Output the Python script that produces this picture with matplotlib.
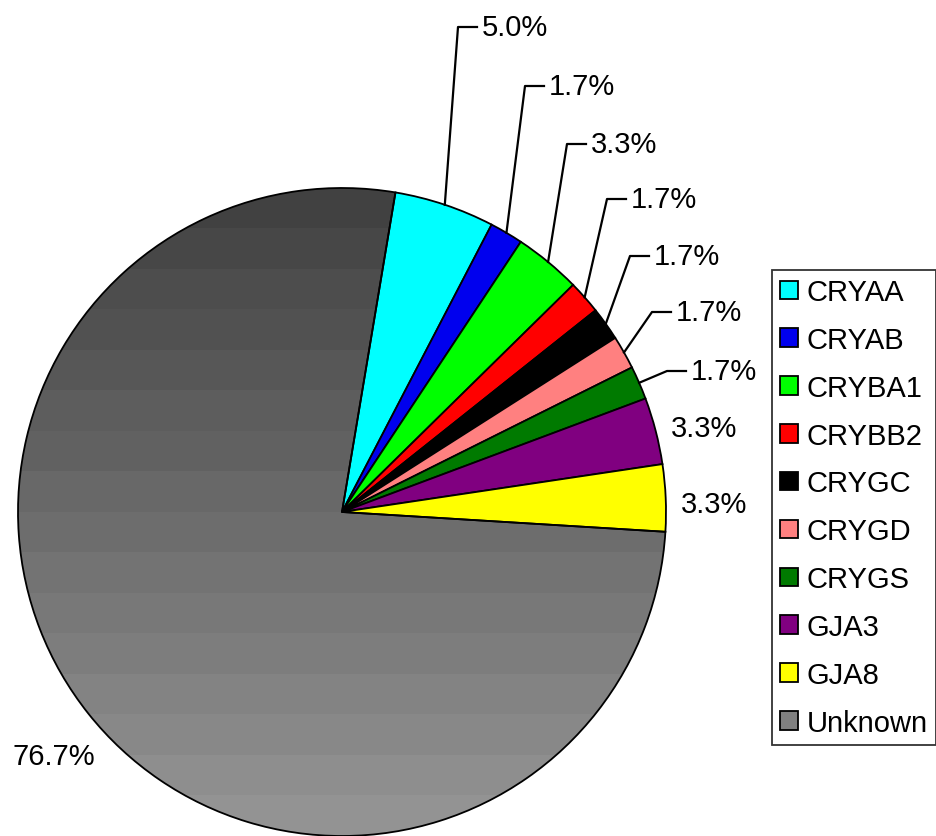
import numpy as np
import matplotlib.pyplot as plt
from matplotlib.patches import Patch

# data
genes = ["CRYAA", "CRYAB", "CRYBA1", "CRYBB2", "CRYGC",
         "CRYGD", "CRYGS", "GJA3", "GJA8", "Unknown"]
counts = [3, 1, 2, 1, 1, 1, 1, 2, 2, 46]
colors = ["#00ffff", "#0000ee", "#00ff00", "#ff0000", "#000000",
          "#ff8080", "#007a00", "#800080", "#ffff00", "#808080"]

W, H = 937, 837
cx, cy, R = 342, 513, 324  # pie centre / radius in pixels

plt.rcParams['font.family'] = ['Liberation Sans', 'DejaVu Sans']

fig = plt.figure(figsize=(W / 100, H / 100), dpi=100)
ax = fig.add_axes([(cx - R) / W, (H - cy - R) / H, 2 * R / W, 2 * R / H])

wedges, _ = ax.pie(counts, colors=colors, startangle=80.5, counterclock=False,
                   wedgeprops=dict(edgecolor="black", linewidth=1.3))
ax.set_xlim(-1, 1)
ax.set_ylim(-1, 1)
ax.set_aspect("equal")
ax.axis("off")

# stepped gray shading on the Unknown slice (dark top, light bottom)
unk = wedges[-1]
unk.set_facecolor("none")
bands = np.linspace(0x42, 0x93, 16).reshape(-1, 1) / 255.0
img = ax.imshow(bands, cmap="gray", vmin=0, vmax=1, extent=(-1, 1, -1, 1),
                aspect="auto", interpolation="nearest", zorder=0.5)
img.set_clip_path(unk)


def to_data(px, py):
    return (px - cx) / R, (cy - py) / R


# leader labels: (elbow x, label y) in pixels
leaders = [(458, 28), (525, 87), (567, 145), (607, 200),
           (630, 257), (652, 313), (667, 372)]
pct = [100 * c / sum(counts) for c in counts]

for i, (ex, ly) in enumerate(leaders):
    w = wedges[i]
    mid = np.deg2rad((w.theta1 + w.theta2) / 2)
    x0, y0 = np.cos(mid), np.sin(mid)
    x1, y1 = to_data(ex, ly)
    x2, _ = to_data(ex + 19, ly)
    ax.plot([x0, x1, x2], [y0, y1, y1], color="black", lw=1.6, clip_on=False)
    tx, _ = to_data(ex + 24, ly)
    ax.text(tx, y1, f"{pct[i]:.1f}%", fontsize=21, va="center", ha="left",
            clip_on=False)

# labels without leaders
for i, (px, py) in zip([7, 8, 9], [(671, 429), (681, 505), (12, 757)]):
    tx, ty = to_data(px, py)
    ax.text(tx, ty, f"{pct[i]:.1f}%", fontsize=21, va="center", ha="left",
            clip_on=False)

handles = [Patch(facecolor=c, edgecolor="black", linewidth=1.3) for c in colors]
leg = fig.legend(handles, genes, loc="upper left",
                 bbox_to_anchor=(772 / W, 1 - 271 / H),
                 fontsize=21, frameon=True, fancybox=False,
                 edgecolor="black", handlelength=0.6, handleheight=0.6,
                 handletextpad=0.3, labelspacing=0.68, borderpad=0.28,
                 borderaxespad=0)
leg.get_frame().set_linewidth(1.3)

fig.savefig("out.png", dpi=100)
